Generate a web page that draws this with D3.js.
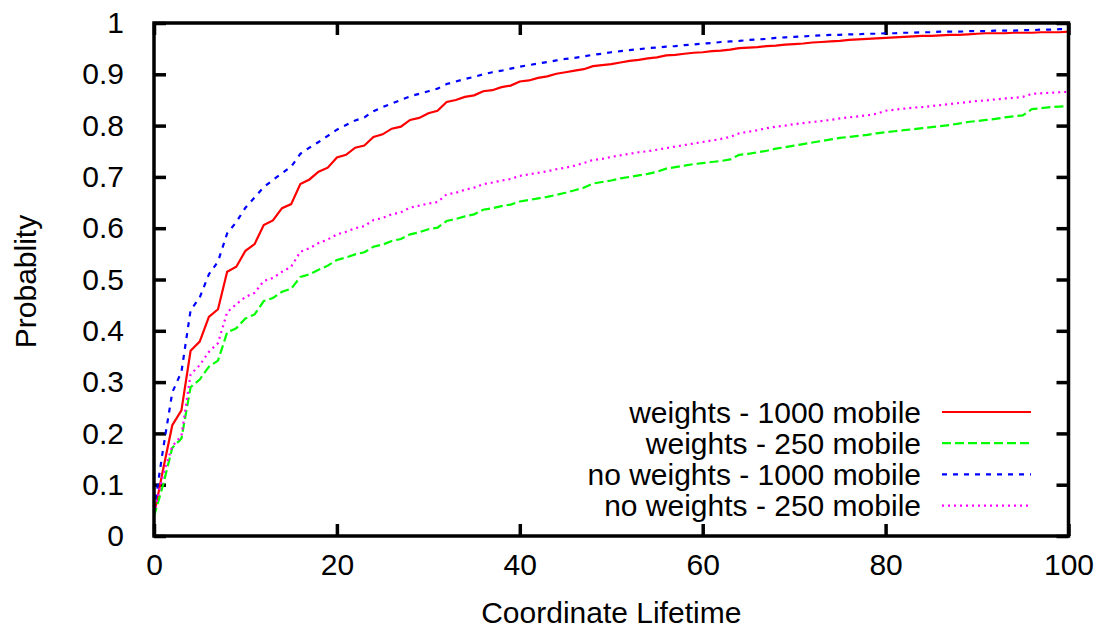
<!DOCTYPE html>
<html>
<head>
<meta charset="utf-8">
<script src="https://cdn.jsdelivr.net/npm/d3@7"></script>
<style>
  html, body { margin: 0; padding: 0; background: #fff; }
  svg { display: block; }
  text { font-family: "Liberation Sans", Arial, Helvetica, sans-serif; fill: #000; }
</style>
</head>
<body>
<svg id="chart" width="1102" height="629"></svg>
<script>
// ---- data ----
const lifetimes = d3.range(0, 101); // x values 0..100
const weights1000 = [0.040,0.130,0.216,0.245,0.361,0.379,0.427,0.442,0.515,0.525,
0.556,0.569,0.606,0.615,0.639,0.647,0.686,0.695,0.710,0.718,
0.738,0.743,0.757,0.761,0.778,0.783,0.794,0.798,0.811,0.815,
0.824,0.829,0.846,0.850,0.856,0.859,0.867,0.869,0.875,0.878,
0.886,0.888,0.893,0.896,0.901,0.904,0.907,0.910,0.916,0.918,
0.920,0.923,0.926,0.928,0.931,0.933,0.937,0.938,0.940,0.942,
0.943,0.945,0.946,0.948,0.951,0.952,0.953,0.955,0.956,0.958,
0.959,0.960,0.962,0.963,0.964,0.965,0.967,0.968,0.969,0.970,
0.971,0.972,0.973,0.974,0.975,0.975,0.976,0.977,0.977,0.978,
0.979,0.980,0.980,0.980,0.981,0.981,0.981,0.982,0.982,0.982,0.983];
const weights250 = [0.038,0.100,0.172,0.190,0.290,0.305,0.330,0.342,0.397,0.405,
0.424,0.432,0.458,0.464,0.476,0.482,0.505,0.510,0.519,0.527,
0.538,0.543,0.549,0.553,0.564,0.568,0.575,0.579,0.588,0.592,
0.598,0.601,0.614,0.618,0.623,0.627,0.636,0.639,0.643,0.646,
0.652,0.655,0.658,0.661,0.665,0.669,0.674,0.679,0.687,0.690,
0.693,0.697,0.700,0.703,0.706,0.710,0.716,0.719,0.722,0.725,
0.727,0.729,0.731,0.734,0.743,0.745,0.748,0.751,0.755,0.758,
0.761,0.764,0.767,0.770,0.773,0.776,0.778,0.780,0.782,0.785,
0.787,0.789,0.791,0.793,0.795,0.797,0.799,0.801,0.804,0.807,
0.809,0.811,0.813,0.816,0.818,0.820,0.832,0.834,0.836,0.837,0.838];
const noWeights1000 = [0.050,0.170,0.280,0.320,0.440,0.465,0.510,0.535,0.590,0.612,
0.640,0.660,0.680,0.694,0.707,0.720,0.745,0.757,0.768,0.780,
0.792,0.801,0.810,0.816,0.828,0.836,0.843,0.850,0.857,0.862,
0.867,0.872,0.881,0.886,0.891,0.895,0.900,0.904,0.907,0.911,
0.915,0.918,0.921,0.924,0.927,0.930,0.932,0.935,0.938,0.940,
0.943,0.945,0.947,0.949,0.951,0.952,0.954,0.955,0.957,0.958,
0.960,0.961,0.963,0.964,0.965,0.967,0.968,0.969,0.971,0.972,
0.973,0.974,0.975,0.976,0.977,0.977,0.978,0.978,0.979,0.979,
0.980,0.980,0.981,0.981,0.982,0.982,0.983,0.983,0.983,0.984,
0.984,0.984,0.985,0.985,0.985,0.986,0.986,0.987,0.987,0.988,0.988];
const noWeights250 = [0.044,0.120,0.175,0.195,0.315,0.333,0.359,0.376,0.436,0.452,
0.466,0.474,0.497,0.503,0.515,0.525,0.554,0.561,0.571,0.578,
0.588,0.593,0.600,0.604,0.616,0.620,0.627,0.631,0.640,0.644,
0.648,0.651,0.666,0.669,0.675,0.679,0.686,0.689,0.693,0.696,
0.702,0.705,0.708,0.711,0.715,0.718,0.722,0.727,0.733,0.735,
0.739,0.742,0.745,0.748,0.750,0.753,0.756,0.759,0.762,0.765,
0.768,0.771,0.774,0.778,0.785,0.788,0.791,0.795,0.798,0.800,
0.803,0.805,0.807,0.809,0.811,0.814,0.816,0.818,0.820,0.823,
0.829,0.831,0.833,0.835,0.836,0.838,0.840,0.842,0.844,0.846,
0.848,0.849,0.851,0.853,0.854,0.856,0.862,0.863,0.864,0.865,0.866];

const seriesNames = ["weights - 1000 mobile", "weights - 250 mobile", "no weights - 1000 mobile", "no weights - 250 mobile"];
const seriesValues = [weights1000, weights250, noWeights1000, noWeights250];
const seriesColors = ["#ff0000", "#00ff00", "#0000ff", "#ff00ff"];
const seriesDash = [null, "9,4", "5,6", "2,4"];
const xTicks = [0, 20, 40, 60, 80, 100];
const yTicks = [0, 0.1, 0.2, 0.3, 0.4, 0.5, 0.6, 0.7, 0.8, 0.9, 1];
const xTitle = "Coordinate Lifetime";
const yTitle = "Probablity";

// ---- layout ----
const L = 154, R = 1068.5, T = 23, B = 536;
const svg = d3.select("#chart");
const x = d3.scaleLinear().domain([0, 100]).range([L, R]);
const y = d3.scaleLinear().domain([0, 1]).range([B, T]);
const tickLen = 12, fontSize = 30;

const fmtY = d => d === 0 ? "0" : d === 1 ? "1" : d3.format(".1f")(d);

// axes (ticks inward, mirrored)
const gBottom = svg.append("g").attr("transform", `translate(0,${B})`)
  .call(d3.axisBottom(x).tickValues(xTicks).tickSize(-tickLen).tickPadding(tickLen + 6));
const gTop = svg.append("g").attr("transform", `translate(0,${T})`)
  .call(d3.axisTop(x).tickValues(xTicks).tickSize(-tickLen).tickFormat(""));
const gLeft = svg.append("g").attr("transform", `translate(${L},0)`)
  .call(d3.axisLeft(y).tickValues(yTicks).tickSize(-tickLen).tickPadding(tickLen + 18).tickFormat(fmtY));
const gRight = svg.append("g").attr("transform", `translate(${R},0)`)
  .call(d3.axisRight(y).tickValues(yTicks).tickSize(-tickLen).tickFormat(""));

[gBottom, gTop, gLeft, gRight].forEach(g => {
  g.select(".domain").remove();
  g.selectAll(".tick line").attr("stroke", "#000").attr("stroke-width", 3.5);
  g.selectAll("text").attr("font-size", fontSize).style("font-family", '"Liberation Sans", Arial, sans-serif');
});
gBottom.selectAll("text").attr("dy", "0.71em");

// series
const line = d3.line().x((d, i) => x(lifetimes[i])).y(d => y(d));
seriesValues.forEach((vals, k) => {
  svg.append("path")
    .datum(vals)
    .attr("fill", "none")
    .attr("stroke", seriesColors[k])
    .attr("stroke-width", 2.2)
    .attr("stroke-dasharray", seriesDash[k])
    .attr("d", line);
});

// frame
svg.append("rect").attr("x", L).attr("y", T).attr("width", R - L).attr("height", B - T)
  .attr("fill", "none").attr("stroke", "#000").attr("stroke-width", 3.5);

// legend
const legX = 921, legRow0 = 412, legStep = 31.2;
seriesNames.forEach((name, k) => {
  const yy = legRow0 + k * legStep;
  svg.append("text").attr("x", legX).attr("y", yy).attr("dy", "0.35em")
    .attr("text-anchor", "end").attr("font-size", fontSize).text(name);
  svg.append("line").attr("x1", 942).attr("x2", 1031).attr("y1", yy).attr("y2", yy)
    .attr("stroke", seriesColors[k]).attr("stroke-width", 2.2)
    .attr("stroke-dasharray", seriesDash[k]);
});

// titles
svg.append("text").attr("x", (L + R) / 2).attr("y", 612).attr("dy", "0.35em")
  .attr("text-anchor", "middle").attr("font-size", fontSize).text(xTitle);
svg.append("text").attr("transform", `translate(25,${(T + B) / 2 + 2}) rotate(-90)`)
  .attr("dy", "0.35em").attr("text-anchor", "middle").attr("font-size", fontSize).text(yTitle);
</script>
</body>
</html>
